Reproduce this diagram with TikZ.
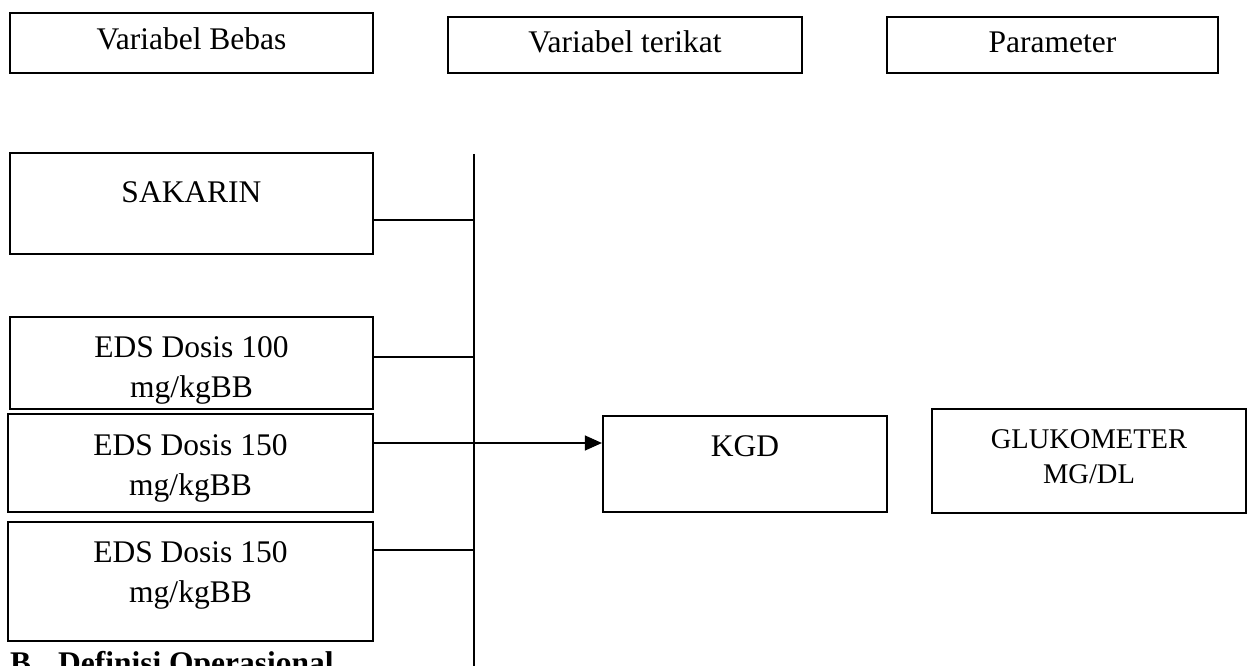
\documentclass[tikz,border=0pt]{standalone}
\usepackage{fontspec}
\setmainfont{Liberation Serif}
\usetikzlibrary{arrows.meta,positioning,calc}

\begin{document}
\begin{tikzpicture}[x=1pt, y=-1pt]
        \tikzset{
            head/.style={draw, rectangle, line width=2.2pt, inner sep=0pt, align=center, font=\fontsize{31.5}{40}\selectfont},
            varbox/.style={draw, rectangle, line width=2.2pt, inner sep=0pt, align=center, font=\fontsize{31.5}{40}\selectfont},
            link/.style={draw, line width=1.2pt},
            arrowline/.style={draw, line width=1.2pt, -{Triangle[length=17pt, width=15pt]}},
            sect/.style={anchor=base west, inner sep=0pt, font=\fontsize{31.5}{40}\selectfont\bfseries}
        }
        \useasboundingbox (0,0) rectangle (1251,666);

        % Header row
        \node[head, minimum width=363pt, text height=37pt, text depth=23pt] (bebas) at (191.5, 43) {Variabel Bebas};
        \node[head, minimum width=354pt, text height=36pt, text depth=20pt] (terikat) at (625, 45) {Variabel terikat};
        \node[head, minimum width=331pt, text height=36pt, text depth=20pt] (param) at (1052.5, 45) {Parameter};

        % Left column (independent variables)
        \node[varbox, minimum width=363pt, text height=50pt, text depth=51pt] (sakarin) at (191.5, 203.5) {SAKARIN};
        \node[varbox, minimum width=363pt, text height=80pt, text depth=12pt] (d100) at (191.5, 363) {EDS Dosis 100\\mg/kgBB};
        \node[varbox, minimum width=365pt, text height=81pt, text depth=17pt] (d150a) at (190.5, 463) {EDS Dosis 150\\mg/kgBB};
        \node[varbox, minimum width=365pt, text height=80pt, text depth=39pt] (d150b) at (190.5, 581.5) {EDS Dosis 150\\mg/kgBB};

        % Dependent variable and parameter
        \node[varbox, minimum width=284pt, text height=40pt, text depth=56pt] (kgd) at (745, 464) {KGD};
        \node[varbox, minimum width=314pt, text height=74pt, text depth=30pt, font=\fontsize{28.5}{35}\selectfont] (gluko) at (1089, 461) {GLUKOMETER\\MG/DL};

        % Collecting line
        \coordinate (bustop) at (474, 154);
        \coordinate (busbot) at (474, 666);
        \path[link] (bustop) -- (busbot);

        % Connections to the collecting line
        \path[link] ([yshift=-16.5pt]sakarin.east) -- ([yshift=-16.5pt]sakarin.east -| bustop);
        \path[link] ([yshift=6pt]d100.east) -- ([yshift=6pt]d100.east -| bustop);
        \path[link] ([yshift=31.5pt]d150b.east) -- ([yshift=31.5pt]d150b.east -| bustop);
        \path[arrowline] ([yshift=20pt]d150a.east) -- ([yshift=20pt]d150a.east -| kgd.west);

        \node[sect] (defop) at (10, 673) {B.\hspace{19pt}Definisi Operasional};

    \end{tikzpicture}
\end{document}
